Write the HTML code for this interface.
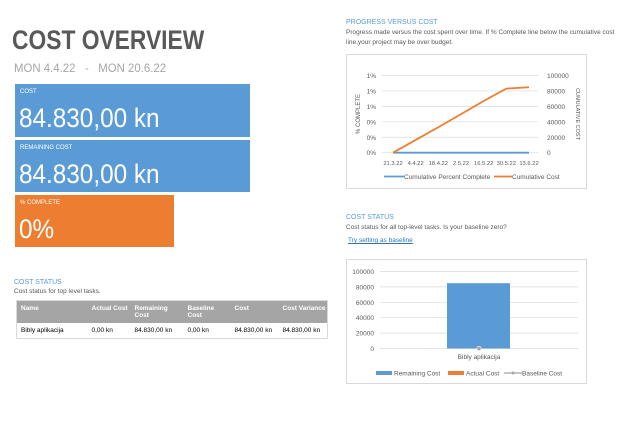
<!DOCTYPE html>
<html><head><meta charset="utf-8"><style>
body{margin:0;width:624px;height:421px;background:#fff;font-family:"Liberation Sans",sans-serif;position:relative;overflow:hidden}
.a{position:absolute;white-space:nowrap}
.tile{position:absolute;color:#fff}
.tile .l{position:absolute;left:5px;top:5px;font-size:6px}
.tile .v{position:absolute;left:4px;top:19px;font-size:27px;transform:scaleX(0.9);transform-origin:0 0}
th,td{font-size:6.5px;text-align:left;vertical-align:top;padding:4px 4px;white-space:nowrap;overflow:visible}
th{color:#fff;background:#a5a5a5}
</style></head><body>
<div class="a" style="left:12px;top:25px;font-size:27px;font-weight:bold;color:#595959;transform:scaleX(0.845);transform-origin:0 0">COST OVERVIEW</div>
<div class="a" style="left:14px;top:61px;font-size:12px;color:#a6a6a6;transform:scaleX(0.95);transform-origin:0 0">MON 4.4.22 &nbsp;&nbsp;- &nbsp;&nbsp;MON 20.6.22</div>
<div class="tile" style="left:15px;top:84px;width:235px;height:53px;background:#5b9bd5"><div class="l">COST</div><div class="v">84.830,00 kn</div></div>
<div class="tile" style="left:15px;top:140px;width:235px;height:52px;background:#5b9bd5"><div class="l">REMAINING COST</div><div class="v">84.830,00 kn</div></div>
<div class="tile" style="left:15px;top:195px;width:159px;height:52px;background:#ed7d31"><div class="l">% COMPLETE</div><div class="v">0%</div></div>

<div class="a" style="left:14px;top:279px;font-size:7px;color:#5b9bd5">COST STATUS</div>
<div class="a" style="left:14px;top:288px;font-size:6.5px;color:#595959">Cost status for top level tasks.</div>
<table style="position:absolute;left:16px;top:300px;width:311px;border-collapse:collapse;border:1px solid #d9d9d9;table-layout:fixed">
<colgroup><col style="width:71px"><col style="width:43px"><col style="width:53px"><col style="width:47px"><col style="width:48px"><col style="width:49px"></colgroup>
<tr style="height:21px"><th>Name</th><th>Actual Cost</th><th>Remaining<br>Cost</th><th>Baseline<br>Cost</th><th>Cost</th><th>Cost Variance</th></tr>
<tr><td>Bibly aplikacija</td><td>0,00 kn</td><td>84.830,00 kn</td><td>0,00 kn</td><td>84.830,00 kn</td><td>84.830,00 kn</td></tr>
</table>

<div class="a" style="left:346px;top:19px;font-size:7px;color:#5b9bd5">PROGRESS VERSUS COST</div>
<div class="a" style="left:346px;top:28px;font-size:6.5px;color:#595959;line-height:10px">Progress made versus the cost spent over time. If % Complete line below the cumulative cost<br>line,your project may be over budget.</div>
<svg id="lc" class="a" style="left:346px;top:54px" width="241" height="135"></svg>

<div class="a" style="left:346px;top:214px;font-size:7px;color:#5b9bd5">COST STATUS</div>
<div class="a" style="left:346px;top:224px;font-size:6.5px;color:#595959">Cost status for all top-level tasks. Is your baseline zero?</div>
<div class="a" style="left:348px;top:237px;font-size:6.5px;color:#2e75b6;text-decoration:underline">Try setting as baseline</div>
<svg id="bc" class="a" style="left:346px;top:259px" width="241" height="125"></svg>

<script>
const dates=["21.3.22","4.4.22","18.4.22","2.5.22","16.5.22","30.5.22","13.6.22"];
const cumCost=[0,16500,33000,50000,67000,83000,84830];
const pctComplete=[0,0,0,0,0,0,0];
const leftTicks=["0%","0%","0%","1%","1%","1%"];
const rightTicks=[0,20000,40000,60000,80000,100000];
const barCats=["Bibly aplikacija"];
const remaining=[84830];
const actual=[0];
const baseline=[0];
const barTicks=[0,20000,40000,60000,80000,100000];
const NS="http://www.w3.org/2000/svg";
function mk(svg,t,a,txt){const e=document.createElementNS(NS,t);for(const k in a)e.setAttribute(k,a[k]);if(txt!=null)e.textContent=txt;svg.appendChild(e);return e;}
const L=document.getElementById('lc');
mk(L,'rect',{x:0.5,y:0.5,width:240,height:134,fill:'#fff',stroke:'#d9d9d9'});
const x0=36,x1=192,yT=21.5,yB=98.7;
const yR=v=>yB-(v/100000)*(yB-yT);
const xD=i=>47+i*(183-47)/(dates.length-1);
rightTicks.forEach((v,i)=>{const y=yR(v);
 const g=mk(L,'line',{x1:x0,x2:x1,y1:y,y2:y,stroke:'#d9d9d9','stroke-width':0.7});
 const t=mk(L,'text',{x:201,y:y+2.5,'font-size':6.5,fill:'#595959'},v);
 const t2=mk(L,'text',{x:30,y:y+2.5,'font-size':6.5,fill:'#595959','text-anchor':'end'},leftTicks[i]);});
dates.forEach((d,i)=>{const t=mk(L,'text',{x:xD(i),y:111,'font-size':5.8,fill:'#595959','text-anchor':'middle'},d);});
let pl=mk(L,'polyline',{points:pctComplete.map((v,i)=>xD(i)+','+(yB-v*(yB-yT))).join(' '),fill:'none',stroke:'#5b9bd5','stroke-width':1.8});

let cl=mk(L,'polyline',{points:cumCost.map((v,i)=>xD(i)+','+yR(v)).join(' '),fill:'none',stroke:'#ed7d31','stroke-width':1.8});

let at=mk(L,'text',{x:0,y:0,'font-size':6,fill:'#595959','text-anchor':'middle',transform:'translate(14,60) rotate(-90)'},'% COMPLETE');
let at2=mk(L,'text',{x:0,y:0,'font-size':5.5,fill:'#595959','text-anchor':'middle',transform:'translate(230,60) rotate(90)'},'CUMULATIVE COST');
mk(L,'line',{x1:38,x2:58,y1:122.5,y2:122.5,stroke:'#5b9bd5','stroke-width':1.8});
let lg1=mk(L,'text',{x:58,y:125,'font-size':6.5,fill:'#595959'},'Cumulative Percent Complete');
mk(L,'line',{x1:148,x2:166,y1:122.5,y2:122.5,stroke:'#ed7d31','stroke-width':1.8});
let lg2=mk(L,'text',{x:166,y:125,'font-size':6.5,fill:'#595959'},'Cumulative Cost');
const B=document.getElementById('bc');
mk(B,'rect',{x:0.5,y:0.5,width:240,height:124,fill:'#fff',stroke:'#d9d9d9'});
const bT=12.5,bB=89.5,bx0=34,bx1=232;
const yb=v=>bB-(v/100000)*(bB-bT);
barTicks.forEach(v=>{const y=yb(v);
 const g=mk(B,'line',{x1:bx0,x2:bx1,y1:y,y2:y,stroke:'#d9d9d9','stroke-width':0.7});
 const t=mk(B,'text',{x:28,y:y+2.5,'font-size':6.5,fill:'#595959','text-anchor':'end'},v);});
const cw=(bx1-bx0)/barCats.length;
barCats.forEach((c,i)=>{const cx=bx0+cw*(i+0.5);
 const r=mk(B,'rect',{x:cx-32,y:yb(remaining[i]),width:63,height:bB-yb(remaining[i]),fill:'#5b9bd5'});
 const a=mk(B,'rect',{x:cx+31,y:yb(actual[i]),width:0,height:bB-yb(actual[i]),fill:'#ed7d31'});
 const p=mk(B,'circle',{cx:cx,cy:yb(baseline[i]),r:2.2,fill:'#a5a5a5',stroke:'#fff','stroke-width':0.6});
 const t=mk(B,'text',{x:cx,y:100,'font-size':6.5,fill:'#595959','text-anchor':'middle'},c);});
mk(B,'rect',{x:30,y:112,width:16,height:4,fill:'#5b9bd5'});
let b1=mk(B,'text',{x:48,y:116.5,'font-size':6.5,fill:'#595959'},'Remaining Cost');
mk(B,'rect',{x:102,y:112,width:16,height:4,fill:'#ed7d31'});
let b2=mk(B,'text',{x:120,y:116.5,'font-size':6.5,fill:'#595959'},'Actual Cost');
mk(B,'line',{x1:158,x2:176,y1:114,y2:114,stroke:'#a5a5a5','stroke-width':1.2});mk(B,'circle',{cx:167,cy:114,r:1.5,fill:'#a5a5a5'});
let b3=mk(B,'text',{x:176,y:116.5,'font-size':6.5,fill:'#595959'},'Baseline Cost');
</script>
</body></html>
